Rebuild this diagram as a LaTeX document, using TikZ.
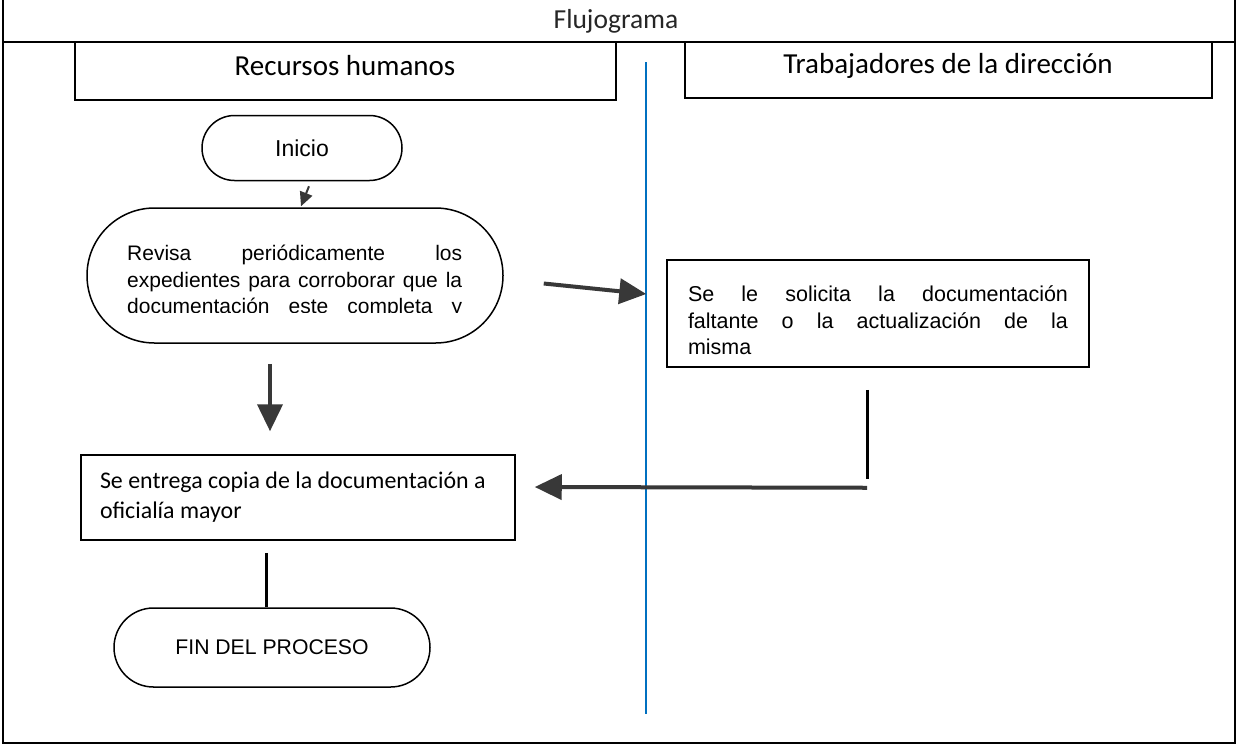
\documentclass[tikz,border=0pt]{standalone}
\usepackage{fontspec}
\setmainfont{Liberation Sans}
\newfontfamily\calib{Carlito}
\usetikzlibrary{arrows.meta, shapes.misc}
\definecolor{laneblue}{RGB}{0,112,192}

\begin{document}
\begin{tikzpicture}[x=1pt,y=-1pt,
  term/.style={draw,line width=1.5pt,rounded rectangle,inner sep=0pt},
  box/.style={draw,line width=1.5pt,rectangle,inner sep=0pt},
  lane/.style={font=\calib\fontsize{29}{34}\selectfont},
  bigarrow/.style={draw=black!78,line width=4pt,-{Triangle[length=27pt,width=25pt]}},
  smallarrow/.style={draw=black!78,line width=2pt,-{Triangle[length=14pt,width=13pt]}},
  link/.style={line width=3pt}]
  \useasboundingbox (0,0) rectangle (1238,750);
  % frame and title
  \draw[line width=1.2pt] (3,0) -- (3,743) -- (1235,743) -- (1235,0);
  \draw[line width=1.2pt] (3,42) -- (1235,42);
  \node[inner sep=0pt,font=\calib\fontsize{27.5}{32}\selectfont,text=black!85] (tit) at (616,21) {Flujograma};
  % lanes
  \draw[line width=1.5pt] (75,42) -- (75,100) -- (616,100) -- (616,42);
  \draw[line width=1.5pt] (685,42) -- (685,98) -- (1212,98) -- (1212,42);
  \node[lane] (h1) at (345,66) {Recursos humanos};
  \node[lane] (h2) at (948,66) {Trabajadores de la dirección};
  \draw[line width=1.5pt,laneblue] (646,62) -- (646,714);
  % steps
  \node[term,minimum width=200pt,minimum height=65pt,font=\fontsize{23}{27}\selectfont] (ini) at (302,148) {Inicio};
  \node[term,minimum width=416pt,minimum height=135pt] (rev) at (295,275.5) {};
  \begin{scope}
    \clip (100,220) rectangle (490,312);
    \node[inner sep=0pt,anchor=north west,text width=335pt,align=justify,
      font=\fontsize{21}{26.5}\selectfont] (revtxt) at (127,245)
      {Revisa periódicamente los\linebreak
       expedientes para corroborar que la\linebreak
       documentación\hfill este\hfill completa\hfill y};
  \end{scope}
  \node[box,minimum width=422pt,minimum height=107pt,text width=380pt,align=justify,
    font=\fontsize{21.5}{26.5}\selectfont] (sol) at (878,313.5)
    {\rule{0pt}{30pt}Se le solicita la documentación\linebreak
     faltante o la actualización de la\linebreak misma};
  \node[box,minimum width=434pt,minimum height=85pt,text width=396pt,align=left,
    font=\calib\fontsize{23.9}{30}\selectfont] (ent) at (298,497.5)
    {\spaceskip=0pt\mbox{Se entrega copia de la documentación a}\\ oficialía mayor};
  \node[term,minimum width=316pt,minimum height=79pt,font=\fontsize{21.2}{25}\selectfont] (fin) at (272,647.5) {FIN DEL PROCESO};
  % connectors
  \draw[smallarrow] ([xshift=7pt,yshift=-5pt]ini.south) -- ([xshift=6pt,yshift=1pt]rev.north);
  \draw[bigarrow] ([xshift=-25pt,yshift=-20pt]rev.south) -- ([xshift=-28pt,yshift=23pt]ent.north);
  \draw[bigarrow] ([xshift=40pt,yshift=-8pt]rev.east) -- ([xshift=-20pt,yshift=19.5pt]sol.west);
  \draw[link] ([xshift=-11pt,yshift=-22pt]sol.south) -- ([xshift=-11pt,yshift=-111pt]sol.south);
  \draw[bigarrow] ([xshift=-11pt,yshift=-120pt]sol.south) -- ([xshift=19pt,yshift=10.5pt]ent.east);
  \draw[link] ([xshift=-32pt,yshift=-12pt]ent.south) -- ([xshift=-6pt]fin.north);
\end{tikzpicture}
\end{document}
